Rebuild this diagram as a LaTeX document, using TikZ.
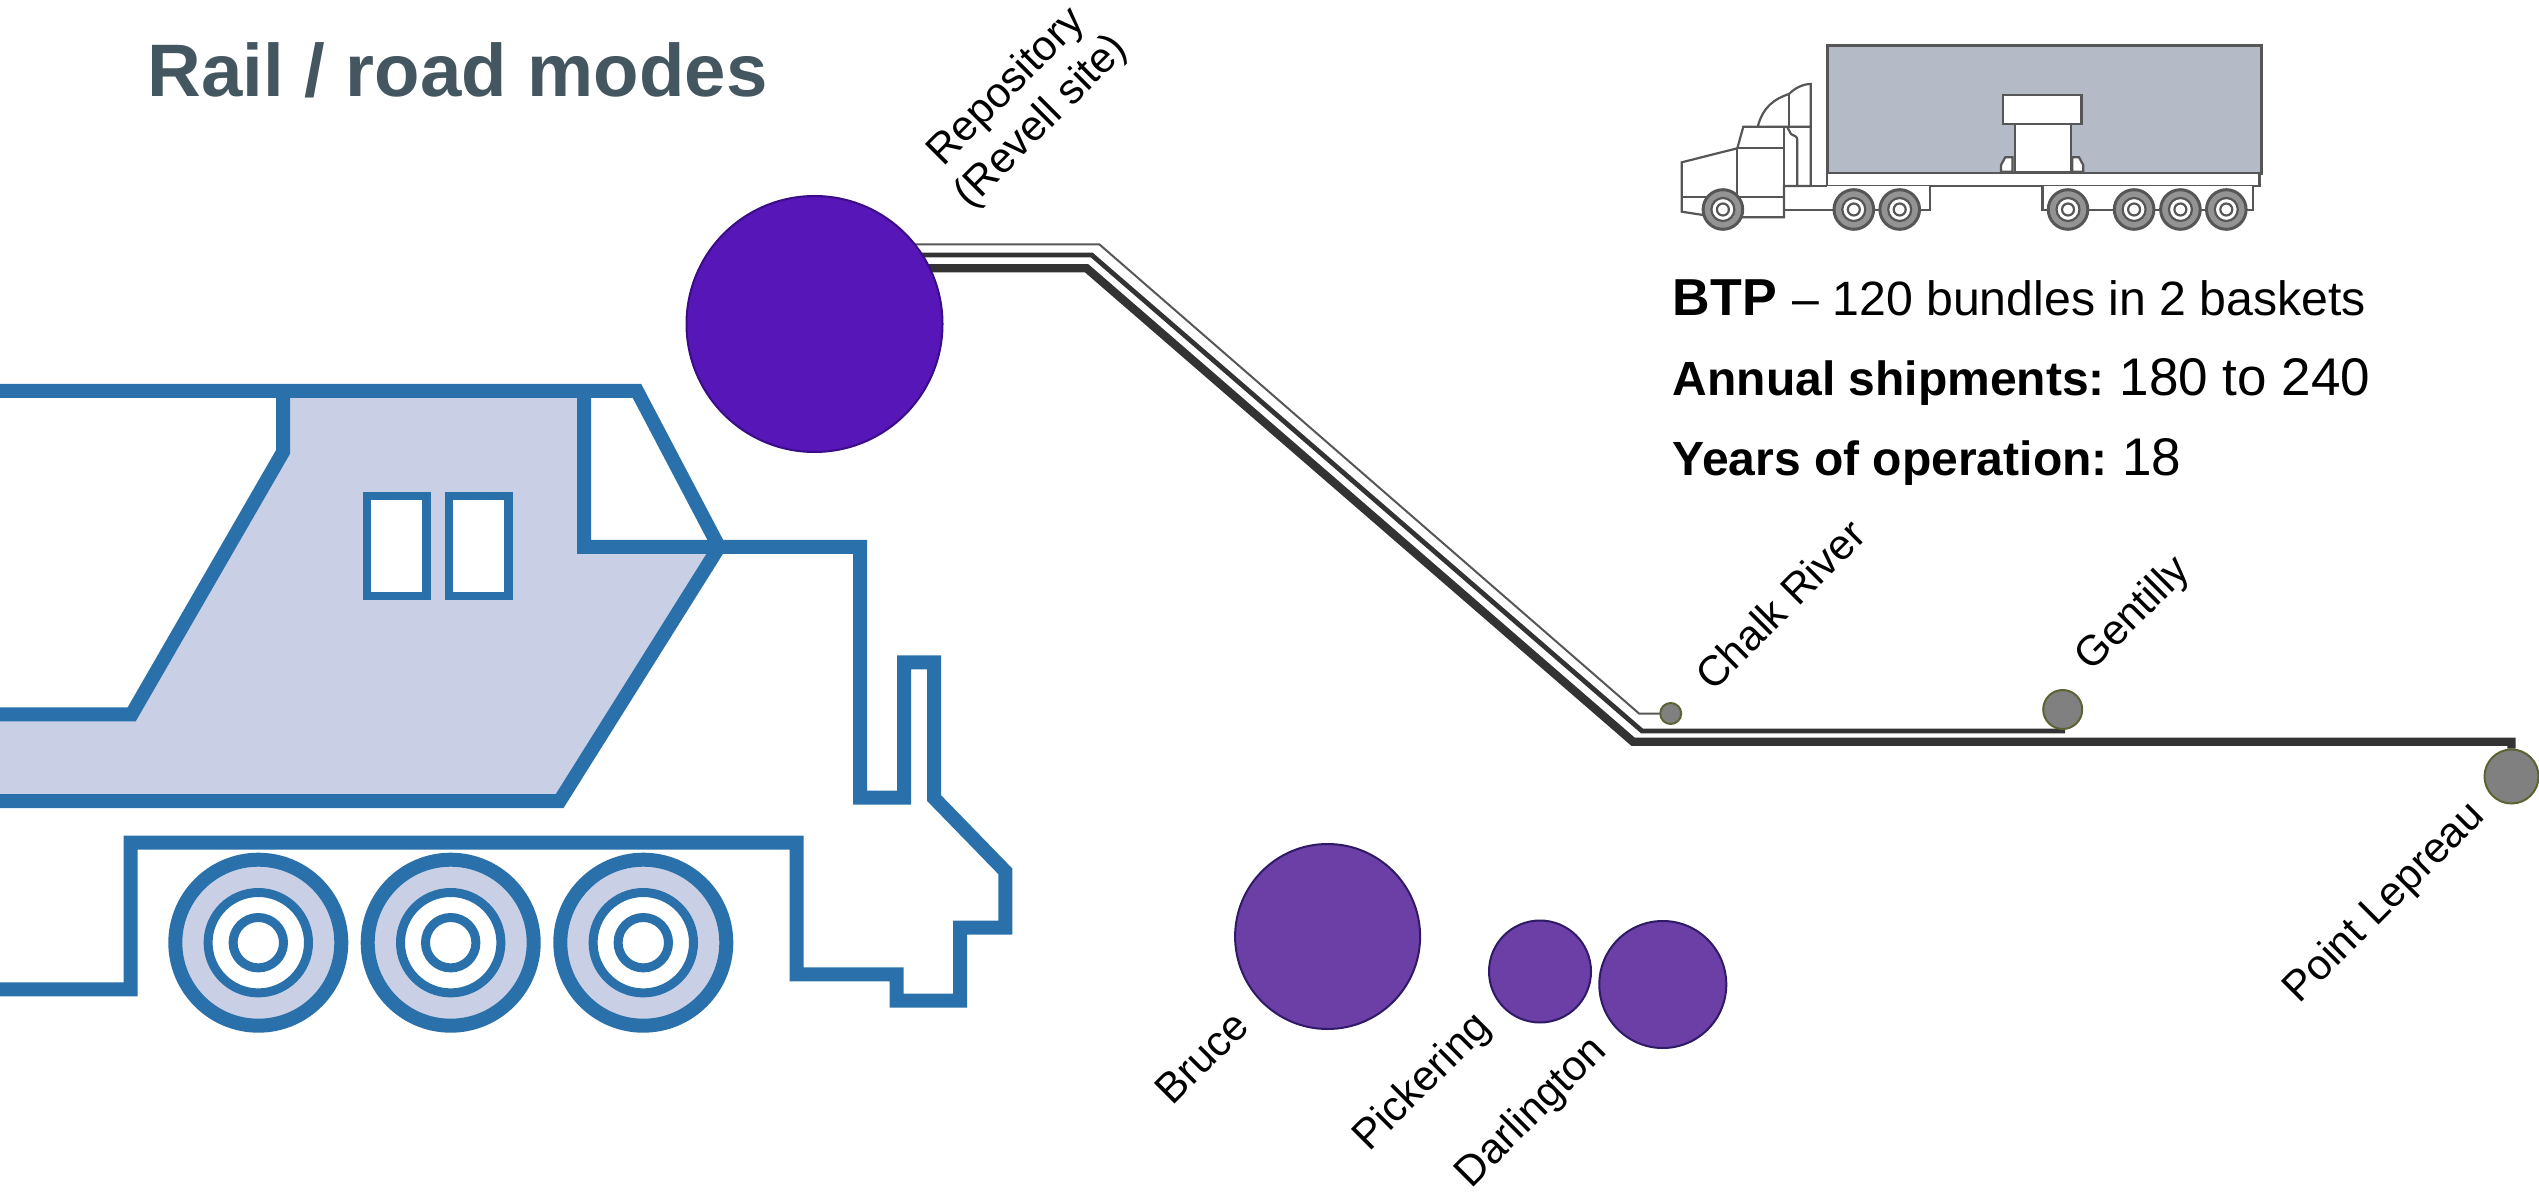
\documentclass[tikz,border=0pt]{standalone}
\usepackage{fontspec}
\setmainfont{Liberation Sans}
\usetikzlibrary{backgrounds}
\definecolor{locoblue}{HTML}{2A71AB}
\definecolor{locofill}{HTML}{C9D0E5}
\definecolor{titlegrey}{HTML}{44565F}
\definecolor{truckline}{HTML}{565656}
\definecolor{truckfill}{HTML}{B5BBC6}
\definecolor{repocol}{HTML}{5716B8}
\definecolor{repoedge}{HTML}{3A0C87}
\definecolor{storecol}{HTML}{6B3FA5}
\definecolor{storeedge}{HTML}{2E1A66}
\definecolor{reactoredge}{HTML}{5B6333}
\definecolor{routecol}{HTML}{333333}
\tikzstyle{loco} = [draw=locoblue, line width=7pt, miter limit=10]
\tikzstyle{ring} = [draw=locoblue, line width=4.5pt]
\tikzstyle{windowbox} = [draw=locoblue, line width=4.2pt, fill=white]
\tikzstyle{truck} = [draw=truckline, line width=1.1pt, fill=white]
\tikzstyle{truckopen} = [draw=truckline, line width=1.1pt]
\tikzstyle{site} = [circle, draw, inner sep=0pt]
\tikzstyle{repository} = [site, fill=repocol, draw=repoedge, line width=1pt, minimum size=128pt]
\tikzstyle{store} = [site, fill=storecol, draw=storeedge, line width=1pt]
\tikzstyle{reactor} = [site, fill=gray, draw=reactoredge, line width=1pt]
\tikzstyle{route} = [draw=routecol, line join=miter]
\tikzstyle{place} = [rotate=45, font=\fontsize{21.2}{24.5}\selectfont, align=center, inner sep=0pt]
\tikzstyle{facts} = [anchor=base west, inner sep=0pt, font=\fontsize{24}{28}\selectfont]
\begin{document}
\begin{tikzpicture}[x=0.5pt, y=-0.5pt]
	\useasboundingbox (0,0) rectangle (2539,1192);

	\node [anchor=base west, inner sep=0pt, text=titlegrey, font=\fontsize{37.2}{40}\selectfont\bfseries] (title) at (147,97) {Rail / road modes};

	\fill [locofill] (283,391) -- (584,391) -- (584,547) -- (719,547) -- (559.7,801) -- (0,801) -- (0,714.3) -- (131.7,714.3) -- (283,452) -- cycle;
	\draw [loco] (0,391) -- (637,391) -- (719,547) -- (584,547) -- (584,391);
	\draw [loco] (283,391) -- (283,452) -- (131.7,714.3) -- (0,714.3);
	\draw [loco] (719,547) -- (559.7,801) -- (0,801);
	\draw [loco] (719,547) -- (860,547) -- (860,797.7) -- (904,797.7) -- (904,662.3) -- (934,662.3) -- (934,798) -- (1005.3,871.3) -- (1005.3,927.7) -- (960,927.7) -- (960,1000.7) -- (896.7,1000.7) -- (896.7,974.3) -- (796.7,974.3) -- (796.7,842.7) -- (130.7,842.7) -- (130.7,989.3) -- (0,989.3);
	\draw [windowbox] (366.7,496.3) rectangle (426.3,595.8);
	\draw [windowbox] (449,496.3) rectangle (508.4,595.8);
	\foreach \wheelx in {258.3,450.7,643.3} {
		\draw [loco, fill=locofill] (\wheelx,942.7) circle (83);
		\draw [ring, fill=white] (\wheelx,942.7) circle (50.2);
		\draw [ring, fill=white] (\wheelx,942.7) circle (25.2);
	}

	\node [repository] (repo) at (814.5,324) {};
	\node [store, minimum size=92.5pt] (bruce) at (1327.6,936.5) {};
	\node [store, minimum size=51pt] (pickering) at (1540,971.5) {};
	\node [store, minimum size=63.5pt] (darlington) at (1662.8,984.5) {};
	\node [reactor, minimum size=10.5pt] (chalk) at (1670.7,713.5) {};
	\node [reactor, minimum size=19.5pt] (gentilly) at (2062.7,709.5) {};
	\node [reactor, minimum size=27pt] (lepreau) at (2511.5,776.5) {};

	\coordinate (bendA) at (1099.3,244.3);
	\coordinate (lowA) at (1639,713.5);
	\coordinate (bendB) at (1091.7,255);
	\coordinate (lowB) at (1642,731);
	\coordinate (bendC) at (1086.7,268.3);
	\coordinate (lowC) at (1633,741.7);
	\begin{scope}[on background layer]
		\path [route, line width=1pt, draw=truckline] (repo |- bendA) -- (bendA) -- (lowA) -- (chalk);
		\path [route, line width=2.4pt] (repo |- bendB) -- (bendB) -- (lowB) -- (gentilly |- lowB) -- (gentilly);
		\path [route, line width=4.2pt] (repo |- bendC) -- (bendC) -- (lowC) -- (lepreau |- lowC) -- (lepreau);
	\end{scope}

	\node [place] (repolabel) at (1024.5,105) {Repository\\(Revell site)};
	\node [place] (chalklabel) at (1780,604.5) {Chalk River};
	\node [place] (gentillylabel) at (2134,615) {Gentilly};
	\node [place] (lepreaulabel) at (2385,903.5) {Point Lepreau};
	\node [place] (brucelabel) at (1201.6,1057.6) {Bruce};
	\node [place] (pickeringlabel) at (1423,1083) {Pickering};
	\node [place] (darlingtonlabel) at (1532,1113) {Darlington};

	\node [facts] (btp) at (1672.5,316) {\fontsize{26}{28}\selectfont\bfseries BTP \fontsize{24.1}{28}\mdseries\selectfont \hspace{0.5pt}-- 120 bundles in 2 baskets};
	\node [facts] (annual) at (1672.5,396) {\bfseries Annual shipments: \hspace{-1.5pt}\fontsize{26.5}{28}\mdseries\selectfont 180 to 240};
	\node [facts] (years) at (1672.5,476) {\bfseries Years of operation: \hspace{-1.5pt}\fontsize{26.5}{28}\mdseries\selectfont 18};

	% truck
	\draw [truck, fill=truckfill, line width=1.5pt] (1827.3,46) rectangle (2261,173.3);
	\draw [truck] (1827.3,173.3) rectangle (2259.5,186);
	\draw [truck] (2014.6,124.3) rectangle (2070.6,171.7);
	\draw [truck] (2002.8,95.3) rectangle (2081.5,124.3);
	\draw [truck] (2001,171.7) -- (2001,165) -- (2005.3,157.3) -- (2012.5,157.3) -- (2012.5,171.7) -- cycle;
	\draw [truck] (2072.3,171.7) -- (2072.3,157.3) -- (2079,157.3) -- (2083.2,165) -- (2083.2,171.7) -- cycle;
	\draw [truck] (1784,186) -- (1784,210) -- (1929.6,210) -- (1929.6,186);
	\draw [truck] (2042.4,186) -- (2042.4,210) -- (2252.8,210) -- (2252.8,186);
	\draw [truck] (1681.7,162.3) -- (1737.3,148.3) -- (1743.3,126.7) -- (1810.7,126.7) -- (1810.7,186) -- (1784,186) -- (1784,217.3) -- (1737.3,217.3) -- (1703,215) -- (1681.7,211.7) -- cycle;
	\draw [truckopen] (1737.3,148.3) -- (1737.3,217.3);
	\draw [truckopen] (1737.3,148.3) -- (1784,148.3);
	\draw [truckopen] (1681.7,197.3) -- (1784,197.3);
	\draw [truckopen] (1784,126.7) -- (1784,186);
	\draw [truckopen] (1797.3,186) -- (1797.3,140) .. controls (1797.3,136) and (1794,136) .. (1791,134) -- (1787,126.7);
	\draw [truck] (1757.7,126.7) .. controls (1763,107) and (1774,99) .. (1789,94) .. controls (1795,88) and (1803,84) .. (1810.7,84) -- (1810.7,126.7) -- cycle;
	\draw [truckopen] (1789,94) -- (1789,126.7);
	\draw [truckopen] (1810.7,186) -- (1827.3,186);
	\foreach \wheelx in {1722.9,1853.8,1899.7,2068,2134.1,2180.4,2226.3} {
		\draw [truck, fill=gray!85, line width=1.5pt] (\wheelx,209.5) circle (19.8);
		\draw [truck] (\wheelx,209.5) circle (11.5);
		\draw [truckopen] (\wheelx,209.5) circle (6);
	}
\end{tikzpicture}
\end{document}
